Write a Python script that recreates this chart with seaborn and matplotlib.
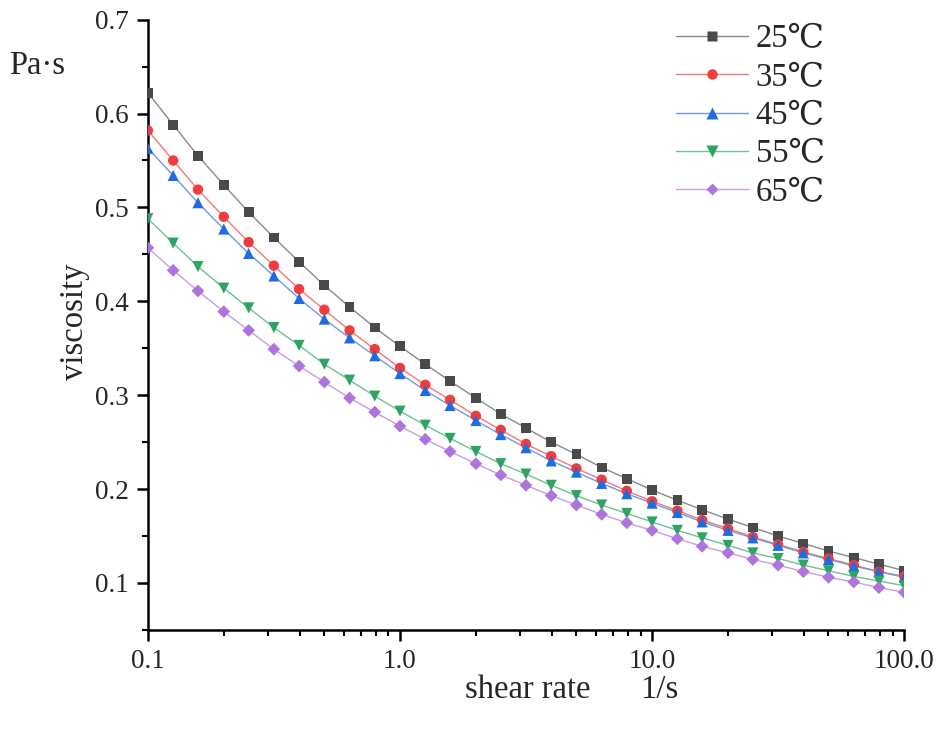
import numpy as np
import pandas as pd
import matplotlib
matplotlib.use("Agg")
import matplotlib.pyplot as plt
import seaborn as sns
from matplotlib.ticker import FixedLocator, NullFormatter, MultipleLocator
from matplotlib.lines import Line2D

# ---- data ----
shear_rate = [0.1, 0.126, 0.158, 0.2, 0.251, 0.316, 0.398, 0.501, 0.631, 0.794,
              1.0, 1.26, 1.58, 2.0, 2.51, 3.16, 3.98, 5.01, 6.31, 7.94,
              10.0, 12.6, 15.8, 20.0, 25.1, 31.6, 39.8, 50.1, 63.1, 79.4, 100.0]
temps = ["25℃", "35℃", "45℃", "55℃", "65℃"]
visc_25 = [0.622, 0.588, 0.555, 0.524, 0.495, 0.468, 0.442, 0.417, 0.394, 0.372, 0.352,
           0.333, 0.315, 0.297, 0.280, 0.265, 0.250, 0.237, 0.223, 0.211, 0.199,
           0.188, 0.178, 0.168, 0.159, 0.150, 0.142, 0.134, 0.127, 0.120, 0.113]
visc_35 = [0.582, 0.550, 0.519, 0.490, 0.463, 0.438, 0.413, 0.391, 0.369, 0.349, 0.329,
           0.311, 0.295, 0.278, 0.263, 0.248, 0.235, 0.222, 0.210, 0.198, 0.187,
           0.177, 0.167, 0.158, 0.149, 0.141, 0.133, 0.126, 0.119, 0.112, 0.107]
visc_45 = [0.563, 0.534, 0.505, 0.477, 0.451, 0.427, 0.403, 0.381, 0.361, 0.342, 0.323,
           0.305, 0.289, 0.273, 0.258, 0.244, 0.230, 0.218, 0.206, 0.195, 0.185,
           0.175, 0.165, 0.156, 0.148, 0.140, 0.132, 0.125, 0.118, 0.112, 0.106]
visc_55 = [0.488, 0.462, 0.437, 0.414, 0.393, 0.372, 0.353, 0.333, 0.316, 0.299, 0.283,
           0.268, 0.254, 0.240, 0.227, 0.216, 0.204, 0.193, 0.183, 0.174, 0.165,
           0.156, 0.148, 0.140, 0.132, 0.126, 0.119, 0.113, 0.107, 0.102, 0.097]
visc_65 = [0.457, 0.433, 0.411, 0.389, 0.369, 0.349, 0.331, 0.314, 0.297, 0.282, 0.267,
           0.253, 0.240, 0.227, 0.215, 0.204, 0.193, 0.183, 0.173, 0.164, 0.156,
           0.147, 0.139, 0.132, 0.125, 0.119, 0.112, 0.106, 0.101, 0.095, 0.090]
x_tick_values = [0.1, 1.0, 10.0, 100.0]
x_tick_labels = ["0.1", "1.0", "10.0", "100.0"]
y_tick_values = [0.1, 0.2, 0.3, 0.4, 0.5, 0.6, 0.7]

series = [visc_25, visc_35, visc_45, visc_55, visc_65]
df = pd.concat([pd.DataFrame({"shear": shear_rate, "visc": v, "temp": t})
                for t, v in zip(temps, series)], ignore_index=True)

sns.set_theme(style="ticks")
plt.rcParams["font.family"] = ["Liberation Serif", "DejaVu Serif"]

line_colors = ["#8a8a8a", "#f27878", "#6f9be0", "#6cc393", "#c69ee6"]
marker_colors = ["#4a4a4a", "#f03c3c", "#1f6be0", "#2ea363", "#ad74dc"]
markers = ["s", "o", "^", "v", "D"]
msizes = [7, 7.5, 8, 8, 6.5]

fig = plt.figure(figsize=(9.36, 7.29), dpi=100)
ax = fig.add_axes([0.158, 0.136, 0.808, 0.837])

sns.lineplot(data=df, x="shear", y="visc", hue="temp", palette=line_colors,
             linewidth=1.0, ax=ax, legend=False, sort=False)
for i, (t, v) in enumerate(zip(temps, series)):
    sub = df[df["temp"] == t]
    sns.scatterplot(data=sub, x="shear", y="visc", marker=markers[i], s=msizes[i] ** 2,
                    color=marker_colors[i], edgecolor="none", linewidth=0, ax=ax,
                    legend=False, zorder=3)

ax.set_xscale("log")
ax.set_xlim(0.1, 100)
ax.set_ylim(0.05, 0.7)
ax.xaxis.set_major_locator(FixedLocator(x_tick_values))
ax.set_xticklabels(x_tick_labels)
ax.xaxis.set_minor_locator(FixedLocator(
    [m * d for d in (0.1, 1, 10) for m in range(2, 10)]))
ax.xaxis.set_minor_formatter(NullFormatter())
ax.yaxis.set_major_locator(FixedLocator(y_tick_values))
ax.set_yticklabels([f"{v:.1f}" for v in y_tick_values])
ax.yaxis.set_minor_locator(MultipleLocator(0.05))

for s in ["top", "right"]:
    ax.spines[s].set_visible(False)
for s in ["left", "bottom"]:
    ax.spines[s].set_linewidth(1.8)
    ax.spines[s].set_color("black")
ax.tick_params(which="major", length=8, width=1.8, labelsize=19.5, color="black",
               direction="out", pad=6)
ax.tick_params(which="minor", length=4.5, width=1.5, color="black", direction="out")
ax.set_xlabel("")
ax.set_ylabel("")

fig.text(0.080, 0.558, "viscosity", rotation=90, ha="center", va="center", fontsize=23.5)
fig.text(0.010, 0.910, "Pa·s", ha="left", va="center", fontsize=23.5)
fig.text(0.497, 0.054, "shear rate", ha="left", va="center", fontsize=23.5)
fig.text(0.684, 0.054, "1/s", ha="left", va="center", fontsize=23.5)

handles = [Line2D([0], [0], color=line_colors[i], lw=1.0, marker=markers[i],
                  markersize=msizes[i], markerfacecolor=marker_colors[i],
                  markeredgecolor="none") for i in range(5)]
leg = ax.legend(handles, temps, loc="upper left", bbox_to_anchor=(0.708, 0.985),
                bbox_transform=fig.transFigure, frameon=False, fontsize=23.5,
                handlelength=2.2, handletextpad=0.25, labelspacing=0.24,
                borderaxespad=0.0)

fig.savefig("out.png", dpi=100)
